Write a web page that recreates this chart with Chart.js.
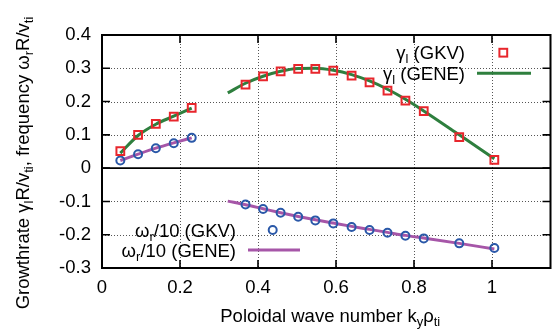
<!DOCTYPE html>
<html>
<head>
<meta charset="utf-8">
<script src="https://cdn.jsdelivr.net/npm/chart.js@4/dist/chart.umd.min.js"></script>
<style>
html,body{margin:0;padding:0;background:#fff;}
#wrap{width:558px;height:333px;}
</style>
</head>
<body>
<div id="wrap"><canvas id="c" width="558" height="333"></canvas></div>
<script>
// ---- data ----
const kGKV = [0.047, 0.0925, 0.138, 0.184, 0.230, 0.368, 0.413, 0.458, 0.503, 0.547, 0.593, 0.640, 0.686, 0.732, 0.778, 0.825, 0.916, 1.006];
const gammaGKV = [0.051, 0.100, 0.133, 0.155, 0.181, 0.251, 0.276, 0.291, 0.298, 0.298, 0.293, 0.278, 0.258, 0.233, 0.203, 0.171, 0.093, 0.025];
const omegaGKV = [0.023, 0.042, 0.060, 0.075, 0.091, -0.109, -0.123, -0.134, -0.146, -0.157, -0.166, -0.177, -0.186, -0.194, -0.203, -0.211, -0.226, -0.240];

const kGENE1 = [0.047, 0.0925, 0.138, 0.184, 0.230];
const gammaGENE1 = [0.045, 0.098, 0.132, 0.156, 0.180];
const omegaGENE1 = [0.023, 0.042, 0.060, 0.076, 0.091];

const kGENE2 = [0.3225, 0.368, 0.413, 0.458, 0.503, 0.547, 0.593, 0.640, 0.686, 0.732, 0.778, 0.825, 0.916, 1.006];
const gammaGENE2 = [0.226, 0.255, 0.276, 0.291, 0.299, 0.300, 0.294, 0.281, 0.262, 0.237, 0.207, 0.172, 0.100, 0.028];
const omegaGENE2 = [-0.099, -0.110, -0.122, -0.134, -0.145, -0.155, -0.165, -0.175, -0.184, -0.193, -0.202, -0.210, -0.226, -0.243];

const xTicks = [0, 0.2, 0.4, 0.6, 0.8, 1];
const yTicks = [-0.3, -0.2, -0.1, 0, 0.1, 0.2, 0.3, 0.4];

const X_MIN = 0, X_MAX = 1.15, Y_MIN = -0.3, Y_MAX = 0.4;

const RED = '#e8262c', BLUE = '#2a58a8', GREEN = '#2e7f3e', PURPLE = '#a656a8';
const FONT = '"Liberation Sans", Arial, Helvetica, sans-serif';
const FS = 18.5, SUB = 13;

function pts(xs, ys) { return xs.map((x, i) => ({x: x, y: ys[i]})); }
function joinGap(a, b) { return a.concat([{x: NaN, y: null}], b); }

// rich text: array of [text, isSub]
function richWidth(ctx, parts) {
  let w = 0;
  for (const [t, s] of parts) { ctx.font = (s ? SUB : FS) + 'px ' + FONT; w += ctx.measureText(t).width; }
  return w;
}
function drawRich(ctx, parts, x, y, align) {
  const w = richWidth(ctx, parts);
  let cx = align === 'right' ? x - w : (align === 'center' ? x - w / 2 : x);
  ctx.textAlign = 'left';
  ctx.textBaseline = 'alphabetic';
  for (const [t, s] of parts) {
    ctx.font = (s ? SUB : FS) + 'px ' + FONT;
    ctx.fillText(t, cx, y + (s ? 4 : 0));
    cx += ctx.measureText(t).width;
  }
}

const decor = {
  id: 'decor',
  beforeDatasetsDraw(chart) {
    const ctx = chart.ctx, a = chart.chartArea;
    const xs = chart.scales.x, ys = chart.scales.y;
    ctx.save();
    ctx.strokeStyle = '#555';
    ctx.lineWidth = 1;
    ctx.setLineDash([1, 2]);
    for (const v of xTicks) {
      if (v <= X_MIN || v >= X_MAX) continue;
      const px = Math.round(xs.getPixelForValue(v)) + 0.5;
      ctx.beginPath(); ctx.moveTo(px, a.top); ctx.lineTo(px, a.bottom); ctx.stroke();
    }
    for (const v of yTicks) {
      if (v <= Y_MIN || v >= Y_MAX || v === 0) continue;
      const py = Math.round(ys.getPixelForValue(v)) + 0.5;
      ctx.beginPath(); ctx.moveTo(a.left, py); ctx.lineTo(a.right, py); ctx.stroke();
    }
    ctx.setLineDash([]);
    ctx.strokeStyle = '#000';
    ctx.lineWidth = 1.6;
    const y0 = ys.getPixelForValue(0);
    ctx.beginPath(); ctx.moveTo(a.left, y0); ctx.lineTo(a.right, y0); ctx.stroke();
    ctx.restore();
  },
  afterDatasetsDraw(chart) {
    const ctx = chart.ctx, a = chart.chartArea;
    const xs = chart.scales.x, ys = chart.scales.y;
    ctx.save();
    // inward ticks on all four sides
    ctx.strokeStyle = '#000';
    ctx.lineWidth = 1.6;
    const TL = 8;
    for (const v of xTicks) {
      const px = xs.getPixelForValue(v);
      ctx.beginPath();
      ctx.moveTo(px, a.bottom); ctx.lineTo(px, a.bottom - TL);
      ctx.moveTo(px, a.top); ctx.lineTo(px, a.top + TL);
      ctx.stroke();
    }
    for (const v of yTicks) {
      const py = ys.getPixelForValue(v);
      ctx.beginPath();
      ctx.moveTo(a.left, py); ctx.lineTo(a.left + TL, py);
      ctx.moveTo(a.right, py); ctx.lineTo(a.right - TL, py);
      ctx.stroke();
    }
    // frame
    ctx.lineWidth = 2;
    ctx.strokeRect(a.left, a.top, a.right - a.left, a.bottom - a.top);

    // axis titles
    ctx.fillStyle = '#000';
    drawRich(ctx, [['Poloidal wave number k', 0], ['y', 1], ['ρ', 0], ['ti', 1]], (a.left + a.right) / 2 + 4, 322, 'center');
    ctx.save();
    ctx.translate(28.5, 163);
    ctx.rotate(-Math.PI / 2);
    drawRich(ctx, [['Growthrate γ', 0], ['l', 1], ['R/v', 0], ['ti', 1], [', frequency ω', 0], ['r', 1], ['R/v', 0], ['ti', 1]], 0, 0, 'center');
    ctx.restore();

    // legends
    drawRich(ctx, [['γ', 0], ['l', 1], [' (GKV)', 0]], 465, 59, 'right');
    drawRich(ctx, [['γ', 0], ['l', 1], [' (GENE)', 0]], 465, 80, 'right');
    drawRich(ctx, [['ω', 0], ['r', 1], ['/10 (GKV)', 0]], 236, 237, 'right');
    drawRich(ctx, [['ω', 0], ['r', 1], ['/10 (GENE)', 0]], 236, 256.5, 'right');

    ctx.lineWidth = 2;
    ctx.strokeStyle = RED;
    ctx.strokeRect(503.3 - 3.9, 52.7 - 3.9, 7.8, 7.8);
    ctx.strokeStyle = GREEN; ctx.lineWidth = 3;
    ctx.beginPath(); ctx.moveTo(477, 73.3); ctx.lineTo(531, 73.3); ctx.stroke();
    ctx.strokeStyle = BLUE; ctx.lineWidth = 2;
    ctx.beginPath(); ctx.arc(272.7, 230, 4, 0, Math.PI * 2); ctx.stroke();
    ctx.strokeStyle = PURPLE; ctx.lineWidth = 3;
    ctx.beginPath(); ctx.moveTo(248, 250); ctx.lineTo(300, 250); ctx.stroke();
    ctx.restore();
  }
};

const fmt = v => String(Math.round(v * 10) / 10);

new Chart(document.getElementById('c'), {
  type: 'scatter',
  data: {
    datasets: [
      { label: 'γl (GENE)', data: joinGap(pts(kGENE1, gammaGENE1), pts(kGENE2, gammaGENE2)), showLine: true, spanGaps: false,
        borderColor: GREEN, borderWidth: 3, pointRadius: 0, cubicInterpolationMode: 'monotone', order: 3 },
      { label: 'ωr/10 (GENE)', data: joinGap(pts(kGENE1, omegaGENE1), pts(kGENE2, omegaGENE2)), showLine: true, spanGaps: false,
        borderColor: PURPLE, borderWidth: 3, pointRadius: 0, cubicInterpolationMode: 'monotone', order: 4 },
      { label: 'γl (GKV)', data: pts(kGKV, gammaGKV), pointStyle: 'rect', pointRadius: 5.5, pointBorderWidth: 2,
        pointBorderColor: RED, pointBackgroundColor: 'rgba(0,0,0,0)', borderColor: RED, order: 1 },
      { label: 'ωr/10 (GKV)', data: pts(kGKV, omegaGKV), pointStyle: 'circle', pointRadius: 4, pointBorderWidth: 2,
        pointBorderColor: BLUE, pointBackgroundColor: 'rgba(0,0,0,0)', borderColor: BLUE, order: 2 }
    ]
  },
  options: {
    responsive: false,
    animation: false,
    devicePixelRatio: 1,
    layout: { padding: { top: 35, right: 5, left: 0, bottom: 0 } },
    plugins: { legend: { display: false }, tooltip: { enabled: false } },
    scales: {
      x: {
        type: 'linear', min: X_MIN, max: X_MAX,
        grid: { display: false, drawTicks: false }, border: { display: false },
        afterBuildTicks: s => { s.ticks = xTicks.map(v => ({ value: v })); },
        afterFit: s => { s.height = 65; },
        ticks: { color: '#000', padding: 9, maxRotation: 0, font: { family: FONT, size: FS }, callback: v => fmt(v) }
      },
      y: {
        type: 'linear', min: Y_MIN, max: Y_MAX,
        grid: { display: false, drawTicks: false }, border: { display: false },
        afterBuildTicks: s => { s.ticks = yTicks.map(v => ({ value: v })); },
        afterFit: s => { s.width = 102; },
        ticks: { color: '#000', padding: 11, font: { family: FONT, size: FS }, callback: v => fmt(v) }
      }
    }
  },
  plugins: [decor]
});
</script>
</body>
</html>
